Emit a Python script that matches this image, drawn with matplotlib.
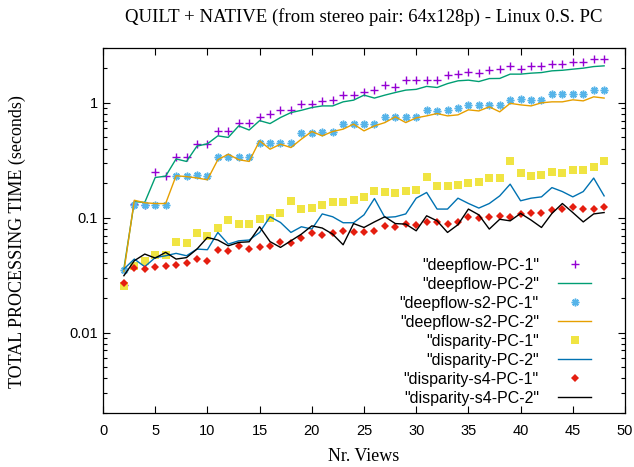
import numpy as np
import matplotlib
matplotlib.use('Agg')
import matplotlib.pyplot as plt

views = np.arange(2, 49)

deepflow_pc1 = [0.026, 0.131, 0.13, 0.25, 0.23, 0.337, 0.335, 0.437, 0.437, 0.571,
                0.571, 0.674, 0.666, 0.755, 0.807, 0.867, 0.867, 0.975, 0.986, 1.04,
                1.055, 1.167, 1.167, 1.254, 1.297, 1.425, 1.386, 1.575, 1.595, 1.595,
                1.575, 1.741, 1.777, 1.872, 1.812, 1.924, 1.963, 2.098, 1.963, 2.098,
                2.098, 2.197, 2.197, 2.274, 2.274, 2.399, 2.399]
deepflow_pc2 = [0.036, 0.138, 0.136, 0.224, 0.23, 0.325, 0.309, 0.42, 0.44, 0.516,
                0.5, 0.63, 0.58, 0.70, 0.66, 0.745, 0.822, 0.861, 0.91, 0.94,
                0.94, 1.02, 1.055, 1.167, 1.10, 1.167, 1.23, 1.29, 1.31, 1.39,
                1.36, 1.47, 1.554, 1.575, 1.532, 1.626, 1.63, 1.777, 1.777, 1.812,
                1.834, 1.898, 1.92, 1.963, 2.003, 2.068, 2.098]
deepflow_s2_pc1 = [0.035, 0.13, 0.13, 0.13, 0.13, 0.232, 0.232, 0.236, 0.23, 0.34,
                   0.335, 0.335, 0.34, 0.446, 0.446, 0.446, 0.446, 0.545, 0.545, 0.56,
                   0.56, 0.653, 0.653, 0.653, 0.653, 0.755, 0.755, 0.755, 0.755, 0.869,
                   0.85, 0.869, 0.91, 0.961, 0.961, 0.961, 0.961, 1.062, 1.077, 1.062,
                   1.062, 1.19, 1.19, 1.19, 1.19, 1.29, 1.29]
deepflow_s2_pc2 = [0.034, 0.142, 0.135, 0.133, 0.133, 0.232, 0.228, 0.222, 0.214, 0.32,
                   0.357, 0.32, 0.309, 0.467, 0.395, 0.437, 0.408, 0.483, 0.563, 0.516,
                   0.563, 0.59, 0.653, 0.57, 0.63, 0.673, 0.755, 0.673, 0.74, 0.77,
                   0.807, 0.77, 0.786, 0.869, 0.85, 0.923, 0.835, 0.99, 0.96, 0.94,
                   1.0, 1.02, 1.02, 1.062, 1.04, 1.128, 1.10]
disparity_pc1 = [0.0256, 0.038, 0.042, 0.0474, 0.047, 0.061, 0.06, 0.073, 0.07, 0.081,
                 0.0955, 0.089, 0.089, 0.097, 0.1, 0.109, 0.1405, 0.119, 0.1214, 0.1297,
                 0.138, 0.138, 0.1425, 0.152, 0.1717, 0.1683, 0.164, 0.1717, 0.174, 0.2273,
                 0.19, 0.19, 0.194, 0.2, 0.206, 0.2214, 0.224, 0.309, 0.246, 0.233,
                 0.236, 0.251, 0.246, 0.26, 0.261, 0.274, 0.309]
disparity_pc2 = [0.0358, 0.0437, 0.0375, 0.045, 0.0467, 0.049, 0.0467, 0.0534, 0.0527, 0.0745,
                 0.059, 0.063, 0.064, 0.0745, 0.102, 0.091, 0.0745, 0.0835, 0.0797, 0.108,
                 0.102, 0.0905, 0.0905, 0.106, 0.147, 0.1006, 0.102, 0.108, 0.148, 0.166,
                 0.119, 0.119, 0.148, 0.1332, 0.1214, 0.133, 0.155, 0.196, 0.1405, 0.148,
                 0.152, 0.183, 0.169, 0.152, 0.169, 0.2214, 0.155]
disparity_s4_pc1 = [0.0268, 0.0363, 0.0358, 0.0375, 0.038, 0.039, 0.0404, 0.0437, 0.0423, 0.0527,
                    0.0517, 0.057, 0.0534, 0.0552, 0.057, 0.061, 0.0598, 0.0666, 0.073, 0.0711,
                    0.073, 0.076, 0.0745, 0.0745, 0.077, 0.085, 0.0835, 0.088, 0.087, 0.091,
                    0.091, 0.089, 0.091, 0.102, 0.099, 0.102, 0.104, 0.1006, 0.108, 0.111,
                    0.109, 0.1167, 0.119, 0.1229, 0.119, 0.119, 0.123]
disparity_s4_pc2 = [0.0313, 0.0423, 0.0483, 0.0446, 0.05, 0.0437, 0.045, 0.0534, 0.0674, 0.064,
                    0.057, 0.061, 0.0618, 0.0835, 0.062, 0.0552, 0.063, 0.072, 0.085, 0.0814,
                    0.072, 0.0582, 0.089, 0.0823, 0.092, 0.102, 0.089, 0.088, 0.077, 0.104,
                    0.094, 0.0745, 0.087, 0.119, 0.106, 0.0797, 0.097, 0.094, 0.109, 0.0955,
                    0.0823, 0.109, 0.133, 0.111, 0.092, 0.108, 0.111]

serif = ['Liberation Serif', 'DejaVu Serif']
sans = ['Liberation Sans', 'DejaVu Sans']
plt.rcParams['font.family'] = sans

fig = plt.figure(figsize=(6.34, 4.67), dpi=100)
ax = fig.add_axes([103/634, 1 - 413/467, 522/634, 365/467])

ax.plot(views, deepflow_pc1, ls='none', marker='+', ms=6, mew=1.0, color='#9400D3',
        label='"deepflow-PC-1"')
ax.plot(views, deepflow_pc2, lw=1.0, color='#009E73', label='"deepflow-PC-2"')
ax.plot(views, deepflow_s2_pc1, ls='none', marker=(8, 2, 0), ms=5.5, mew=1.1, color='#56B4E9',
        label='"deepflow-s2-PC-1"')
ax.plot(views, deepflow_s2_pc2, lw=1.0, color='#E69F00', label='"deepflow-s2-PC-2"')
ax.plot(views, disparity_pc1, ls='none', marker='s', ms=5.5, mew=0, color='#F0E442',
        label='"disparity-PC-1"')
ax.plot(views, disparity_pc2, lw=1.0, color='#0072B2', label='"disparity-PC-2"')
ax.plot(views, disparity_s4_pc1, ls='none', marker='D', ms=4.5, mew=0, color='#E51E10',
        label='"disparity-s4-PC-1"')
ax.plot(views, disparity_s4_pc2, lw=1.0, color='black', label='"disparity-s4-PC-2"')

ax.set_yscale('log')
ax.set_xlim(0, 50)
ax.set_ylim(0.002, 3)
ax.set_xticks(range(0, 51, 5))
ax.set_yticks([0.01, 0.1, 1])
ax.set_yticklabels(['0.01', '0.1', '1'])
ax.tick_params(which='both', direction='in', top=True, right=True, labelsize=10.5)
ax.tick_params(which='major', length=5, width=0.8)
ax.tick_params(which='minor', length=3, width=0.8)
ax.tick_params(axis='x', pad=8)
for s in ax.spines.values():
    s.set_linewidth(0.9)

ax.set_title('QUILT + NATIVE (from stereo pair: 64x128p) - Linux 0.S. PC',
             family=serif, fontsize=13.5, pad=19)
ax.set_xlabel('Nr. Views', family=serif, fontsize=13, labelpad=7)
ax.set_ylabel('TOTAL PROCESSING TIME (seconds)', family=serif, fontsize=13)
ax.yaxis.set_label_coords(-0.148, 0.47)

leg = ax.legend(loc='lower right', bbox_to_anchor=(0.948, 0.003), markerfirst=False,
                frameon=False, fontsize=11.5, handlelength=2.1, handletextpad=1.2,
                labelspacing=0.25, borderaxespad=0.0, numpoints=1)

fig.savefig('out.png', dpi=100)
